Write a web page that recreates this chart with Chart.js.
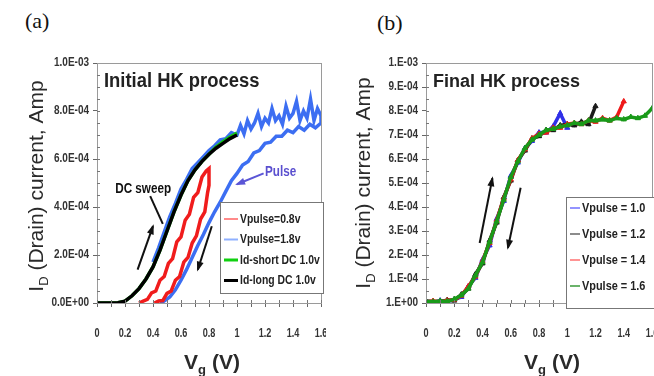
<!DOCTYPE html>
<html>
<head>
<meta charset="utf-8">
<script src="https://cdn.jsdelivr.net/npm/chart.js@4.4.1/dist/chart.umd.min.js"></script>
<style>
  body { margin: 0; background: #fff; width: 654px; height: 376px; position: relative; overflow: hidden; }
  .panel { position: absolute; top: 0; height: 376px; overflow: hidden; }
  #pa { left: 0; width: 326px; }
  #pb { left: 330px; width: 324px; }
  .tag { position: absolute; font-family: "Liberation Serif", "Times New Roman", serif; font-size: 22px; color: #111; }
</style>
</head>
<body>
<div class="tag" style="left:25px;top:8px">(a)</div>
<div class="tag" style="left:377px;top:10px">(b)</div>
<div class="panel" id="pa"><canvas id="chartA" width="341" height="376"></canvas></div>
<div class="panel" id="pb"><canvas id="chartB" width="342" height="376"></canvas></div>

<script>
// ---- axis labels ----
const xTickLabels = ['0', '0.2', '0.4', '0.6', '0.8', '1', '1.2', '1.4', '1.6'];
const yTickLabelsA = ['0.0E+00', '2.0E-04', '4.0E-04', '6.0E-04', '8.0E-04', '1.0E-03'];
const yTickLabelsB = ['1.E+00', '1.E-04', '2.E-04', '3.E-04', '4.E-04', '5.E-04', '6.E-04', '7.E-04', '8.E-04', '9.E-04', '1.E-03'];

// ---- panel (a): drain current in units of 1E-4 A ----
const vgDc = [0, 0.05, 0.1, 0.15, 0.2, 0.25, 0.3, 0.35, 0.4, 0.45, 0.5, 0.55, 0.6, 0.65, 0.7, 0.75, 0.8, 0.85, 0.9, 0.95, 1.0];
const idLongDc = [0, 0, 0, 0.01, 0.08, 0.3, 0.6, 1.0, 1.5, 2.2, 3.0, 3.8, 4.5, 5.1, 5.55, 5.9, 6.2, 6.45, 6.65, 6.85, 7.0];
const idShortDc = [0, 0, 0, 0.01, 0.08, 0.3, 0.6, 1.0, 1.5, 2.2, 3.0, 3.8, 4.5, 5.1, 5.55, 5.9, 6.2, 6.5, 6.72, 6.92, 7.08];

const vgPulse08 = [0.30, 0.33, 0.36, 0.39, 0.42, 0.45, 0.48, 0.51, 0.54, 0.57, 0.60, 0.63, 0.66, 0.69, 0.72, 0.75, 0.78, 0.80,
                   0.80, 0.79, 0.77, 0.74, 0.71, 0.68, 0.65, 0.62, 0.59, 0.56, 0.53, 0.50, 0.47, 0.44, 0.41];
const idPulse08 = [0, 0.08, 0.15, 0.42, 0.5, 0.95, 1.1, 1.65, 1.85, 2.55, 2.75, 3.45, 3.7, 4.4, 4.6, 5.25, 5.5, 5.6,
                   4.9, 4.6, 3.8, 3.5, 2.8, 2.5, 1.9, 1.7, 1.1, 0.95, 0.5, 0.4, 0.1, 0.08, 0];

const vgPulse18 = [0.40, 0.44, 0.48, 0.52, 0.56, 0.60, 0.64, 0.68, 0.72, 0.76, 0.80, 0.84, 0.88, 0.92, 0.96, 1.00,
                   1.025, 1.05, 1.075, 1.10, 1.125, 1.15, 1.175, 1.20, 1.225, 1.25, 1.275, 1.30, 1.325, 1.35, 1.375,
                   1.40, 1.425, 1.45, 1.475, 1.50, 1.525, 1.55, 1.575, 1.60,
                   1.60, 1.56, 1.52, 1.48, 1.44, 1.40, 1.36, 1.32, 1.28, 1.24, 1.20, 1.16, 1.12, 1.08, 1.04, 1.00,
                   0.96, 0.92, 0.88, 0.84, 0.80, 0.76, 0.72, 0.68, 0.64, 0.60, 0.56, 0.52, 0.48, 0.45];
const idPulse18 = [1.7, 2.3, 2.95, 3.6, 4.15, 4.75, 5.15, 5.6, 5.85, 6.1, 6.35, 6.55, 6.8, 6.85, 7.1, 7.0,
                   7.4, 7.05, 7.6, 7.25, 7.5, 7.9, 7.35, 7.7, 7.5, 8.1, 7.6, 7.8, 7.45, 8.2, 7.7,
                   7.9, 8.4, 7.6, 8.0, 7.7, 8.5, 7.6, 8.1, 7.8,
                   7.5, 7.3, 7.45, 7.2, 7.35, 7.1, 7.2, 6.95, 6.95, 6.7, 6.65, 6.35, 6.25, 5.9, 5.75, 5.4,
                   5.1, 4.65, 4.2, 3.8, 3.35, 2.85, 2.4, 1.9, 1.4, 0.95, 0.55, 0.25, 0.08, 0];

// ---- panel (b): drain current in units of 1E-4 A ----
const vgB = [0, 0.05, 0.1, 0.15, 0.2, 0.25, 0.3, 0.35, 0.4, 0.45, 0.5, 0.55, 0.6, 0.65, 0.7, 0.75, 0.8,
             0.85, 0.9, 0.95, 1.0, 1.05, 1.1, 1.15, 1.2, 1.25, 1.3, 1.35, 1.4, 1.45, 1.5, 1.55, 1.6];
const idVp10 = [0.05, 0.02, 0.1, 0.05, 0.15, 0.25, 0.7, 1.05, 1.8, 2.4, 3.5, 4.25, 5.3, 5.85, 6.45, 6.75, 7.1, 7.1, 7.35, 7.9, 7.3];
const idVp12 = [0.08, 0.06, 0.04, 0.12, 0.1, 0.35, 0.6, 1.2, 1.65, 2.6, 3.35, 4.4, 5.1, 5.95, 6.35, 6.85, 6.95, 7.2, 7.2, 7.4, 7.45,
                7.4, 7.55, 7.45, 8.2];
const idVp14 = [0.04, 0.08, 0.05, 0.1, 0.14, 0.3, 0.7, 1.1, 1.75, 2.5, 3.45, 4.35, 5.15, 5.95, 6.4, 6.85, 7.05, 7.1, 7.3, 7.3, 7.45,
                7.5, 7.45, 7.6, 7.55, 7.7, 7.6, 7.75, 8.4];
const idVp16 = [0.06, 0.05, 0.08, 0.06, 0.16, 0.32, 0.6, 1.15, 1.7, 2.55, 3.4, 4.3, 5.25, 5.9, 6.45, 6.8, 7.0, 7.2, 7.25, 7.35, 7.4,
                7.5, 7.45, 7.6, 7.6, 7.65, 7.6, 7.7, 7.65, 7.75, 7.7, 7.8, 8.1];

const labelsA = ['Vpulse=0.8v', 'Vpulse=1.8v', 'Id-short DC 1.0v', 'Id-long DC 1.0v'];
const labelsB = ['Vpulse = 1.0', 'Vpulse = 1.2', 'Vpulse = 1.4', 'Vpulse = 1.6'];

const SANS = '"Liberation Sans", Arial, sans-serif';

const pts = (xs, ys) => ys.map((y, i) => ({ x: xs[i], y }));

// tick labels are painted by the decor plugin in a condensed bold face
function axes(yStep, yWidth) {
  return {
    x: {
      type: 'linear', min: 0, max: 1.6,
      ticks: { stepSize: 0.1, autoSkip: false, maxRotation: 0, padding: 20, callback: () => '' },
      grid: { drawOnChartArea: false, tickLength: 4, color: '#666' },
      border: { color: '#666' },
      afterFit: s => { s.height = 73; },
    },
    y: {
      min: 0, max: 10,
      ticks: { stepSize: yStep, autoSkip: false, padding: 4, callback: () => '' },
      grid: { drawOnChartArea: false, tickLength: 4, color: '#666' },
      border: { color: '#666' },
      afterFit: s => { s.width = yWidth; },
    },
  };
}

function arrow(ctx, x1, y1, x2, y2, color, head) {
  ctx.strokeStyle = color; ctx.fillStyle = color; ctx.lineWidth = 2;
  ctx.beginPath(); ctx.moveTo(x1, y1); ctx.lineTo(x2, y2); ctx.stroke();
  if (!head) return;
  const a = Math.atan2(y2 - y1, x2 - x1);
  ctx.beginPath();
  ctx.moveTo(x2 + 2 * Math.cos(a), y2 + 2 * Math.sin(a));
  ctx.lineTo(x2 - 8 * Math.cos(a) + 3.5 * Math.sin(a), y2 - 8 * Math.sin(a) - 3.5 * Math.cos(a));
  ctx.lineTo(x2 - 8 * Math.cos(a) - 3.5 * Math.sin(a), y2 - 8 * Math.sin(a) + 3.5 * Math.cos(a));
  ctx.closePath(); ctx.fill();
}

// narrow-looking text: squeeze horizontally
function narrowText(ctx, text, x, y, sx) {
  ctx.save(); ctx.translate(x, y); ctx.scale(sx, 1); ctx.fillText(text, 0, 0); ctx.restore();
}

// text with a subscript after the first letter, centred on x
function subTitle(ctx, main, sub, rest, x, y, size, weight) {
  const big = `${weight} ${size}px ${SANS}`, small = `${weight} ${Math.round(size * 0.62)}px ${SANS}`;
  ctx.font = big; const w1 = ctx.measureText(main).width, w3 = ctx.measureText(rest).width;
  ctx.font = small; const w2 = ctx.measureText(sub).width;
  let cx = x - (w1 + w2 + w3) / 2;
  ctx.textAlign = 'left'; ctx.textBaseline = 'alphabetic';
  ctx.font = big; ctx.fillText(main, cx, y); cx += w1;
  ctx.font = small; ctx.fillText(sub, cx, y + size * 0.25); cx += w2;
  ctx.font = big; ctx.fillText(rest, cx, y);
}

function decor(opt) {
  return {
    id: 'decor',
    afterDraw(chart) {
      const { ctx, chartArea: a, scales: { x, y } } = chart;
      const px = v => x.getPixelForValue(v), py = v => y.getPixelForValue(v);
      ctx.save();
      ctx.strokeStyle = '#9a9a9a'; ctx.lineWidth = 1;
      ctx.strokeRect(a.left + 0.5, a.top + 0.5, a.right - a.left, a.bottom - a.top);

      // small inward ticks
      ctx.strokeStyle = '#777';
      x.ticks.forEach(t => {
        const xx = Math.round(px(t.value)) + 0.5;
        ctx.beginPath(); ctx.moveTo(xx, a.bottom); ctx.lineTo(xx, a.bottom - 3); ctx.stroke();
      });
      for (let v = 0.5; v < 10; v += 0.5) {
        const yy = Math.round(py(v)) + 0.5;
        ctx.beginPath(); ctx.moveTo(a.left, yy); ctx.lineTo(a.left + 3, yy); ctx.stroke();
      }

      // tick labels
      ctx.fillStyle = '#333'; ctx.font = `bold 13px ${SANS}`; ctx.textBaseline = 'middle';
      ctx.textAlign = 'center';
      x.ticks.forEach((t, i) => { if (i % 2 === 0) narrowText(ctx, xTickLabels[i / 2], px(t.value), a.bottom + 30, 0.7); });
      ctx.font = `bold 12.5px ${SANS}`; ctx.textAlign = 'right';
      y.ticks.forEach((t, i) => narrowText(ctx, opt.yLabels[i], a.left - 8, py(t.value), 0.8));

      // axis titles
      ctx.fillStyle = '#2a2a2a';
      ctx.save();
      ctx.translate(opt.yTitleX, opt.yTitleY); ctx.rotate(-Math.PI / 2);
      subTitle(ctx, 'I', 'D', ' (Drain) current, Amp', 0, 7, 21, 'normal');
      ctx.restore();
      subTitle(ctx, 'V', 'g', ' (V)', opt.xTitleX, 369, 21, 'bold');

      // panel caption
      ctx.fillStyle = '#222'; ctx.font = `bold ${opt.capSize}px ${SANS}`; ctx.textAlign = 'left'; ctx.textBaseline = 'alphabetic';
      narrowText(ctx, opt.caption, a.left + 7, a.top + 24, opt.capSx);

      // arrows and notes
      opt.arrows.forEach(r => arrow(ctx, px(r[0]), py(r[1]), px(r[2]), py(r[3]), r[4], r[5]));
      opt.notes.forEach(n => {
        ctx.fillStyle = n.color; ctx.font = `bold 15px ${SANS}`;
        narrowText(ctx, n.text, px(n.x), py(n.y), 0.78);
      });

      // legend
      const L = opt.legend;
      ctx.fillStyle = '#fff'; ctx.fillRect(L.x, L.y, L.w, L.h);
      ctx.strokeStyle = '#777'; ctx.lineWidth = 1; ctx.strokeRect(L.x + 0.5, L.y + 0.5, L.w, L.h);
      ctx.font = `bold 13px ${SANS}`; ctx.textBaseline = 'middle';
      L.items.forEach((it, i) => {
        const ds = chart.data.datasets[it];
        const ry = L.y + L.first + i * L.gap;
        ctx.strokeStyle = ds.legendColor; ctx.lineWidth = ds.legendWidth;
        ctx.beginPath(); ctx.moveTo(L.x + 4, ry); ctx.lineTo(L.x + L.line, ry); ctx.stroke();
        ctx.fillStyle = '#222';
        narrowText(ctx, ds.label, L.x + L.line + 2, ry, L.sx);
      });
      ctx.restore();
    },
  };
}

const lineDs = (label, data, color, width, order, legendColor, legendWidth, extra) => Object.assign({
  label, data, borderColor: color, backgroundColor: color, borderWidth: width, showLine: true,
  pointRadius: 0, tension: 0, order, legendColor, legendWidth,
}, extra || {});

new Chart(document.getElementById('chartA'), {
  type: 'scatter',
  data: {
    datasets: [
      lineDs(labelsA[0], pts(vgPulse08, idPulse08), '#f01c1c', 3.5, 2, '#ff8a8a', 2),
      lineDs(labelsA[1], pts(vgPulse18, idPulse18), '#3c6ef2', 3.5, 3, '#8fb0ff', 2),
      lineDs(labelsA[2], pts(vgDc, idShortDc), '#14c814', 3.5, 1, '#10d010', 3),
      lineDs(labelsA[3], pts(vgDc, idLongDc), '#000', 3.5, 0, '#000', 3),
    ],
  },
  options: {
    responsive: false, animation: false,
    layout: { padding: { top: 63, right: 0, left: 0, bottom: 0 } },
    plugins: { legend: { display: false }, tooltip: { enabled: false } },
    scales: axes(2, 97),
  },
  plugins: [decor({
    caption: 'Initial HK process', capSize: 20, capSx: 0.92, yTitleX: 36, yTitleY: 186, xTitleX: 212,
    yLabels: yTickLabelsA,
    arrows: [
      [0.29, 1.39, 0.40, 3.2, '#111', true],
      [0.82, 3.2, 0.72, 1.39, '#111', true],
      [0.38, 4.45, 0.47, 3.3, '#111', false],
      [1.19, 5.4, 1.0, 4.95, '#5a55d6', true],
    ],
    notes: [
      { text: 'DC sweep', x: 0.13, y: 4.6, color: '#111' },
      { text: 'Pulse', x: 1.2, y: 5.3, color: '#5a4fcf' },
    ],
    legend: { x: 220, y: 202, w: 103, h: 91, first: 17, gap: 20.5, line: 18, sx: 0.8, items: [0, 1, 2, 3] },
  })],
});

const ptsB = { pointRadius: 3, pointStyle: 'triangle', pointBorderWidth: 1 };
new Chart(document.getElementById('chartB'), {
  type: 'scatter',
  data: {
    datasets: [
      lineDs(labelsB[0], pts(vgB, idVp10), '#3030e8', 3.5, 3, '#7070ff', 1.5, ptsB),
      lineDs(labelsB[1], pts(vgB, idVp12), '#1a1a1a', 3.5, 2, '#666', 1.5, ptsB),
      lineDs(labelsB[2], pts(vgB, idVp14), '#ee1a1a', 3.5, 1, '#ff7070', 1.5, ptsB),
      lineDs(labelsB[3], pts(vgB, idVp16), '#1a9a1a', 3.5, 0, '#3a9a3a', 1.5, ptsB),
    ],
  },
  options: {
    responsive: false, animation: false,
    layout: { padding: { top: 63, right: 0, left: 0, bottom: 0 } },
    plugins: { legend: { display: false }, tooltip: { enabled: false } },
    scales: axes(1, 96),
  },
  plugins: [decor({
    caption: 'Final HK process', capSize: 18, capSx: 1.0, yTitleX: 33, yTitleY: 183, xTitleX: 222,
    yLabels: yTickLabelsB,
    arrows: [
      [0.38, 2.5, 0.47, 5.2, '#111', true],
      [0.67, 4.8, 0.58, 2.3, '#111', true],
    ],
    notes: [],
    legend: { x: 236, y: 197, w: 92, h: 111, first: 11, gap: 26, line: 14, sx: 0.84, items: [0, 1, 2, 3] },
  })],
});
</script>
</body>
</html>
